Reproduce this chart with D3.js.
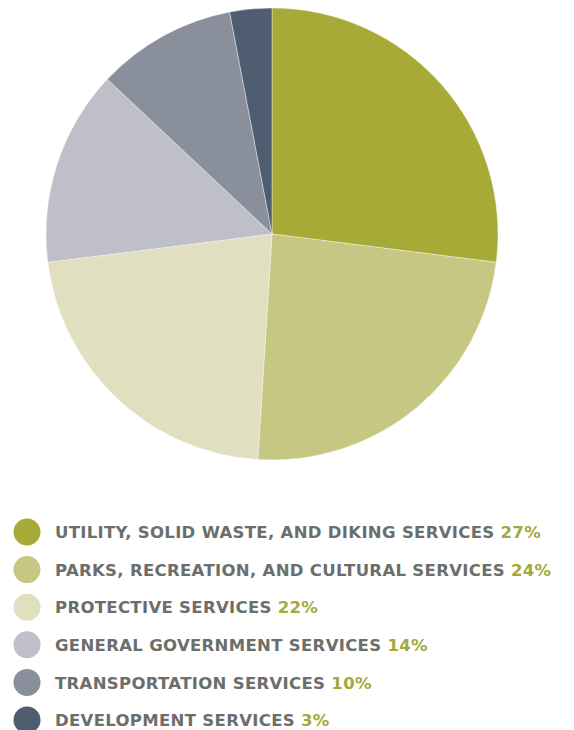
<!DOCTYPE html>
<html>
<head>
<meta charset="utf-8">
<script src="https://cdn.jsdelivr.net/npm/d3@7"></script>
<style>
  html, body { margin: 0; padding: 0; background: #ffffff; }
  svg { display: block; }
</style>
</head>
<body>
<svg id="chart" width="574" height="730"></svg>
<script>
// Service categories and their share of spending (percent)
const categories = [
  "UTILITY, SOLID WASTE, AND DIKING SERVICES",
  "PARKS, RECREATION, AND CULTURAL SERVICES",
  "PROTECTIVE SERVICES",
  "GENERAL GOVERNMENT SERVICES",
  "TRANSPORTATION SERVICES",
  "DEVELOPMENT SERVICES"
];
const shares = [27, 24, 22, 14, 10, 3];
const colors = ["#a8aa38", "#c6c782", "#e0dfbf", "#bebfc8", "#8a8f9c", "#4f5d71"];

const svg = d3.select("#chart");
const cx = 272, cy = 234, radius = 226;

const pie = d3.pie().sort(null).value(d => d.value);
const arc = d3.arc().innerRadius(0).outerRadius(radius);

const data = categories.map((c, i) => ({ name: c, value: shares[i], color: colors[i] }));

svg.append("g")
  .attr("transform", `translate(${cx},${cy})`)
  .selectAll("path")
  .data(pie(data))
  .join("path")
  .attr("d", arc)
  .attr("fill", d => d.data.color)
  .attr("stroke", "#ffffff")
  .attr("stroke-width", 0.4);

// Legend
const legend = svg.append("g");
const rowY = d3.scaleLinear().domain([0, 5]).range([532, 720]);
const textX = 55, longestRowWidth = 486;

const rows = legend.selectAll("g.row")
  .data(data)
  .join("g")
  .attr("class", "row")
  .attr("transform", (d, i) => `translate(0,${rowY(i)})`);

rows.append("circle")
  .attr("cx", 27)
  .attr("cy", 0)
  .attr("r", 13.5)
  .attr("fill", d => d.color);

const label = rows.append("text")
  .attr("x", textX)
  .attr("y", 0)
  .attr("dy", "0.37em")
  .style("font-family", "'DejaVu Sans', sans-serif")
  .style("font-weight", "700")
  .style("font-size", "16.5px")
  .style("letter-spacing", "0px");

label.append("tspan")
  .attr("fill", "#6b6e6a")
  .text(d => d.name + " ");
label.append("tspan")
  .attr("fill", "#a5a83a")
  .text(d => d.value + "%");

// Spread the letters so the longest row spans the legend width
const first = label.node();
const natural = first.getComputedTextLength();
const nChars = (data[0].name + " " + data[0].value + "%").length;
const spacing = Math.max(0, (longestRowWidth - natural) / nChars);
label.style("letter-spacing", spacing + "px");
</script>
</body>
</html>
